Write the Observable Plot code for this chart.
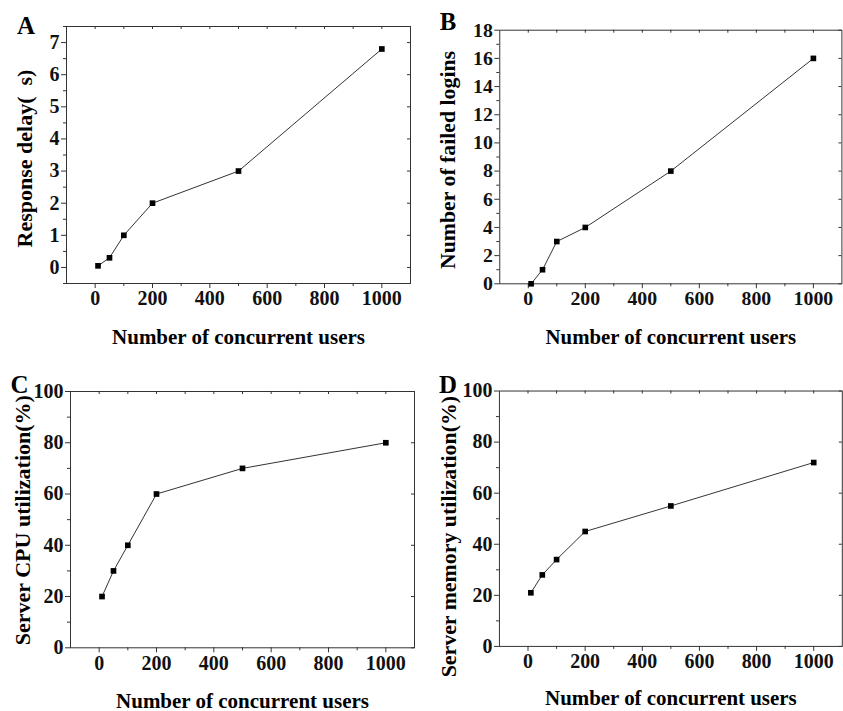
<!DOCTYPE html>
<html><head><meta charset="utf-8">
<script src="https://cdn.jsdelivr.net/npm/d3@7"></script>
<script src="https://cdn.jsdelivr.net/npm/@observablehq/plot@0.6"></script>
<style>
  html,body{margin:0;padding:0;background:#fff;}
  body{width:843px;height:711px;position:relative;overflow:hidden;}
  .p{position:absolute;}
  .p svg, .p svg text{font-family:"Liberation Serif","Times New Roman",serif !important;font-weight:bold;}
</style>
</head><body>
<div id="root"></div>
<script>
// ---- data ----
const users = [10, 50, 100, 200, 500, 1000];
const delay = [0.05, 0.3, 1, 2, 3, 6.8];
const failedLogins = [0, 1, 3, 4, 8, 16];
const cpuUtil = [20, 30, 40, 60, 70, 80];
const memUtil = [21, 28, 34, 45, 55, 72];

const xMajor = [0, 200, 400, 600, 800, 1000];
const xMinor = [100, 300, 500, 700, 900];
const xTop = [0, 100, 200, 300, 400, 500, 600, 700, 800, 900, 1000];
const xLabel = "Number of concurrent users";

const yTicksA = [0, 1, 2, 3, 4, 5, 6, 7];
const yMinorA = [-0.5, 0.5, 1.5, 2.5, 3.5, 4.5, 5.5, 6.5, 7.5];
const yTicksB = [0, 2, 4, 6, 8, 10, 12, 14, 16, 18];
const yMinorB = [1, 3, 5, 7, 9, 11, 13, 15, 17];
const yTicksPct = [0, 20, 40, 60, 80, 100];
const yMinorPct = [10, 30, 50, 70, 90];

const INK = "#222";
const FONT = "Liberation Serif";
const fmt = d => String(d);
const blank = () => "";

function panel(cfg) {
  const rows = users.map((u, i) => ({x: u, y: cfg.values[i]}));
  const plotW = cfg.width - cfg.ml - cfg.mr;
  const plotH = cfg.height - cfg.mt - cfg.mb;
  const svg = Plot.plot({
    width: cfg.width,
    height: cfg.height,
    marginLeft: cfg.ml, marginRight: cfg.mr, marginTop: cfg.mt, marginBottom: cfg.mb,
    x: {domain: [-100, 1100], axis: null},
    y: {domain: cfg.yDomain, axis: null},
    style: {fontFamily: FONT, fontWeight: "bold", fontSize: "20px", background: "transparent", overflow: "visible", color: INK},
    marks: [
      Plot.frame({stroke: "#333", strokeWidth: 1}),
      // tick lines
      Plot.axisX(xMajor, {anchor: "bottom", tickSize: 5, tickFormat: blank, label: null, stroke: "#333"}),
      Plot.axisX(xMinor, {anchor: "bottom", tickSize: 3, tickFormat: blank, label: null, stroke: "#333"}),
      Plot.axisY(cfg.yTicks, {anchor: "left", tickSize: 5, tickFormat: blank, label: null, stroke: "#333"}),
      Plot.axisY(cfg.yMinor, {anchor: "left", tickSize: 3, tickFormat: blank, label: null, stroke: "#333"}),
      Plot.tickX(xTop, {x: d => d, insetBottom: plotH - 3, stroke: "#333"}),
      Plot.tickY(cfg.yTicks, {y: d => d, insetLeft: plotW - 3, stroke: "#333"}),
      // tick labels
      Plot.text(xMajor, {x: d => d, frameAnchor: "bottom", dy: 15.5, text: fmt, fontSize: 20, fontWeight: "bold", fontFamily: FONT, textAnchor: "middle", lineAnchor: "middle", fill: "#111"}),
      Plot.text(cfg.yTicks, {y: d => d, frameAnchor: "left", dx: -7, text: fmt, fontSize: 20, fontWeight: "bold", fontFamily: FONT, textAnchor: "end", lineAnchor: "middle", fill: "#111"}),
      // data
      Plot.line(rows, {x: "x", y: "y", stroke: "#333", strokeWidth: 1}),
      Plot.dot(rows, {x: "x", y: "y", symbol: "square", r: 3.2, fill: "#000", stroke: "none"}),
      // titles
      Plot.text([cfg.letter], {frameAnchor: "top-left", text: d => d, dx: cfg.letterDx, dy: cfg.letterDy, fontSize: 25, fontWeight: "bold", fontFamily: FONT, textAnchor: "middle", lineAnchor: "middle", fill: "#000"}),
      Plot.text([xLabel], {frameAnchor: "bottom", text: d => d, dy: cfg.xLabelDy, fontSize: 21, fontWeight: "bold", fontFamily: FONT, textAnchor: "middle", lineAnchor: "middle", fill: "#000", letterSpacing: 0.7}),
      Plot.text([cfg.yLabel], {frameAnchor: "left", text: d => d, dx: cfg.yLabelDx, dy: cfg.yLabelDy, rotate: -90, fontSize: 22, fontWeight: "bold", fontFamily: FONT, textAnchor: "middle", lineAnchor: "middle", fill: "#000", letterSpacing: 0.3})
    ]
  });
  const wrap = document.createElement("div");
  wrap.className = "p";
  wrap.style.left = cfg.left + "px";
  wrap.style.top = cfg.top + "px";
  wrap.appendChild(svg);
  document.getElementById("root").appendChild(wrap);
}

panel({letter: "A", values: delay, yLabel: "Response delay(  s)", yDomain: [-0.5, 7.5],
  yTicks: yTicksA, yMinor: yMinorA,
  left: 0, top: 0, width: 421, height: 355, ml: 66, mr: 11, mt: 26, mb: 72,
  letterDx: -40.5, letterDy: -1, xLabelDy: 54, yLabelDx: -42, yLabelDy: 3.5});

panel({letter: "B", values: failedLogins, yLabel: "Number of failed logins", yDomain: [0, 18],
  yTicks: yTicksB, yMinor: yMinorB,
  left: 421, top: 0, width: 426, height: 355, ml: 79, mr: 1.6, mt: 30, mb: 69,
  letterDx: -52.3, letterDy: -8.3, xLabelDy: 54, yLabelDx: -52, yLabelDy: 3});

panel({letter: "C", values: cpuUtil, yLabel: "Server CPU utilization(%)", yDomain: [0, 100],
  yTicks: yTicksPct, yMinor: yMinorPct,
  left: 0, top: 355, width: 421, height: 356, ml: 70, mr: 7, mt: 36, mb: 63.7,
  letterDx: -51, letterDy: -7, xLabelDy: 53, yLabelDx: -48, yLabelDy: 0.5});

panel({letter: "D", values: memUtil, yLabel: "Server memory utilization(%)", yDomain: [0, 100],
  yTicks: yTicksPct, yMinor: yMinorPct,
  left: 421, top: 355, width: 424, height: 356, ml: 78.3, mr: 1.2, mt: 35.7, mb: 63.7,
  letterDx: -51.8, letterDy: -5.7, xLabelDy: 52.5, yLabelDx: -50.3, yLabelDy: 18});
</script>
</body></html>
